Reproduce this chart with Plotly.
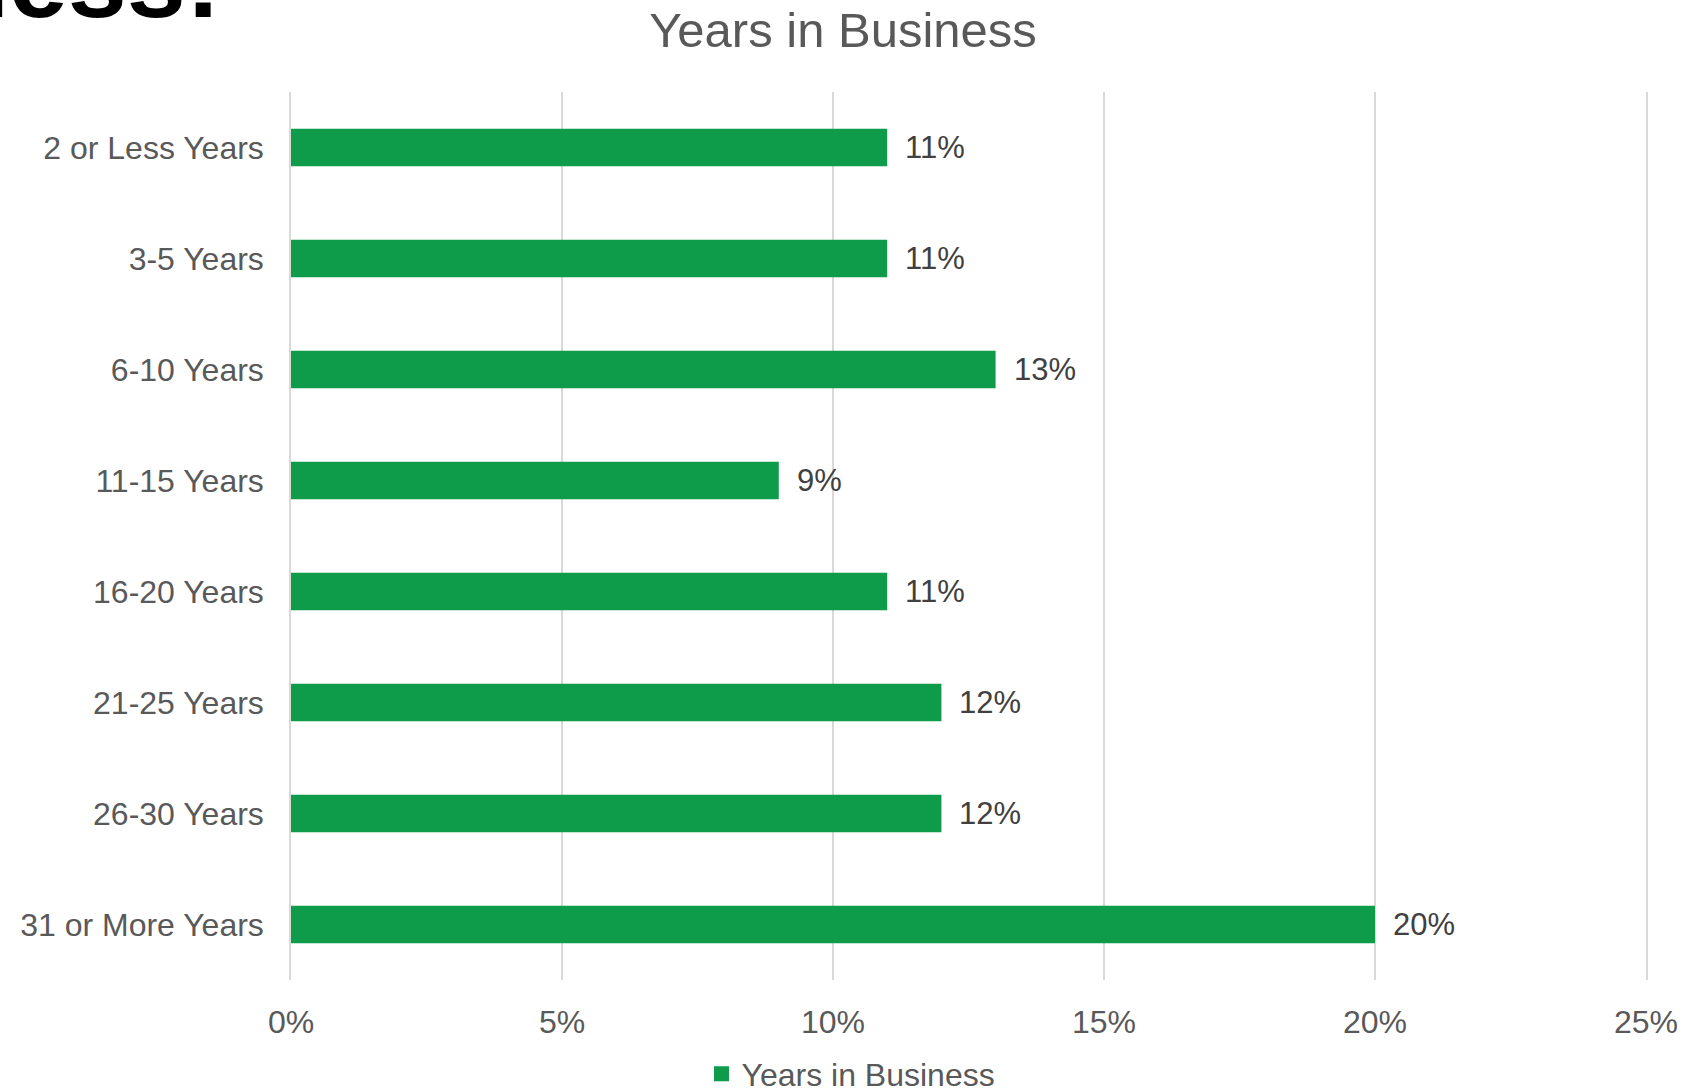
import plotly.graph_objects as go

# Survey breakdown: share of respondents by years in business
categories = [
    "2 or Less Years",
    "3-5 Years",
    "6-10 Years",
    "11-15 Years",
    "16-20 Years",
    "21-25 Years",
    "26-30 Years",
    "31 or More Years",
]
shares = [0.11, 0.11, 0.13, 0.09, 0.11, 0.12, 0.12, 0.20]
series_name = "Years in Business"
x_ticks = [0, 0.05, 0.10, 0.15, 0.20, 0.25]

BAR_GREEN = "#0F9C4A"
TEXT_GREY = "#595959"
LABEL_DARK = "#404040"
GRID_GREY = "#D9D9D9"
FONT = "Liberation Sans, Arial, sans-serif"

W, H = 1686, 1092
M_L, M_R, M_T, M_B = 291, 40, 92, 112
PLOT_W = W - M_L - M_R
PLOT_H = H - M_T - M_B

fig = go.Figure()
fig.add_trace(
    go.Bar(
        x=shares,
        y=categories,
        orientation="h",
        name=series_name,
        marker=dict(color=BAR_GREEN, line=dict(width=0)),
        hoverinfo="skip",
        showlegend=False,
    )
)

# Legend entry with a larger square swatch
fig.add_trace(
    go.Scatter(
        x=[None],
        y=[None],
        mode="markers",
        name=series_name,
        marker=dict(symbol="square", size=15, color=BAR_GREEN),
        showlegend=True,
    )
)

# Value labels just past the end of each bar
for cat, val in zip(categories, shares):
    fig.add_annotation(
        x=val,
        y=cat,
        xref="x",
        yref="y",
        text=f"{round(val * 100)}%",
        showarrow=False,
        xanchor="left",
        yanchor="middle",
        xshift=16,
        font=dict(family=FONT, size=31, color=LABEL_DARK),
    )

# Tail of a heading that runs off the top-left edge of the slide
fig.add_annotation(
    x=(223 - M_L) / PLOT_W,
    y=(H - M_B - 41) / PLOT_H,
    xref="paper",
    yref="paper",
    text="<b>ness:</b>",
    showarrow=False,
    xanchor="right",
    yanchor="bottom",
    font=dict(family=FONT, size=106, color="#000000"),
)

fig.update_layout(
    width=W,
    height=H,
    margin=dict(l=M_L, r=M_R, t=M_T, b=M_B, autoexpand=False),
    paper_bgcolor="white",
    plot_bgcolor="white",
    bargap=0.66,
    font=dict(family=FONT, size=32, color=TEXT_GREY),
    title=dict(
        text="Years in Business",
        x=0.5,
        xref="container",
        xanchor="center",
        y=1 - 30 / H,
        yref="container",
        yanchor="middle",
        font=dict(family=FONT, size=49, color=TEXT_GREY),
    ),
    showlegend=True,
    legend=dict(
        orientation="h",
        x=851 / W,
        xref="container",
        xanchor="center",
        y=1 - 1074 / H,
        yref="container",
        yanchor="middle",
        font=dict(family=FONT, size=32, color=TEXT_GREY),
        itemwidth=30,
        bgcolor="rgba(0,0,0,0)",
    ),
    xaxis=dict(
        range=[0, 0.25],
        tickvals=x_ticks,
        tickformat=".0%",
        showgrid=True,
        gridcolor=GRID_GREY,
        gridwidth=1.5,
        zeroline=False,
        showline=False,
        ticks="",
        ticklabelstandoff=20,
        tickfont=dict(family=FONT, size=32, color=TEXT_GREY),
        fixedrange=True,
    ),
    yaxis=dict(
        autorange="reversed",
        showgrid=False,
        zeroline=False,
        # side lines double as the 0% and 25% gridlines
        showline=True,
        mirror=True,
        linecolor=GRID_GREY,
        linewidth=1.5,
        ticks="",
        ticklabelstandoff=19,
        tickfont=dict(family=FONT, size=32, color=TEXT_GREY),
        fixedrange=True,
    ),
)

fig.write_html("out.html")
